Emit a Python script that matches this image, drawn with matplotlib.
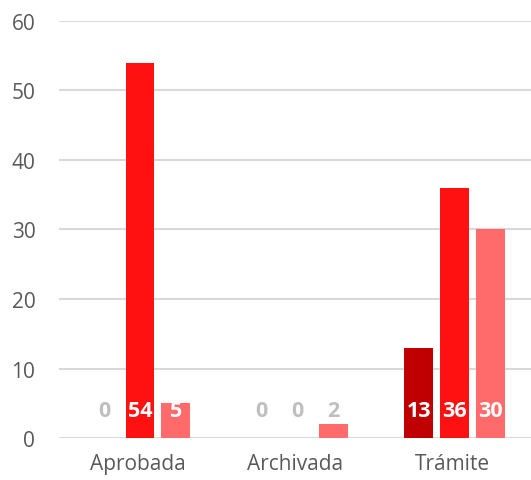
import matplotlib.pyplot as plt
import numpy as np

categorias = ["Aprobada", "Archivada", "Trámite"]
serie1 = [0, 0, 13]
serie2 = [54, 0, 36]
serie3 = [5, 2, 30]
colores = ["#C00000", "#FF1111", "#FF6B6B"]

plt.rcParams['font.family'] = ['Open Sans', 'DejaVu Sans']

fig = plt.figure(figsize=(5.31, 4.81), dpi=100)
ax = fig.add_axes([0.111, 0.0873, 0.889, 0.867])

x = np.arange(len(categorias))
ancho = 0.183
paso = 0.228
for i, (vals, col) in enumerate(zip([serie1, serie2, serie3], colores)):
    pos = x + (i - 1) * paso + 0.015
    ax.bar(pos, vals, ancho, color=col, zorder=3)
    for p, v in zip(pos, vals):
        c = "white" if v > 4 else "#BFBFBF"
        ax.text(p, 3.9, str(v), ha="center", va="center", color=c,
                fontsize=15.5, fontweight="bold", zorder=4)

ax.set_xlim(-0.5, 2.5)
ax.set_ylim(0, 60)
ax.set_yticks(range(0, 61, 10))
ax.set_xticks(x)
ax.set_xticklabels(categorias)
ax.grid(axis="y", color="#D9D9D9", linewidth=1.5, zorder=0)
for s in ax.spines.values():
    s.set_visible(False)
ax.tick_params(axis="both", length=0, labelsize=15, colors="#595959")
ax.tick_params(axis="y", pad=17)
ax.tick_params(axis="x", pad=11)

fig.savefig("out.png", dpi=100)
